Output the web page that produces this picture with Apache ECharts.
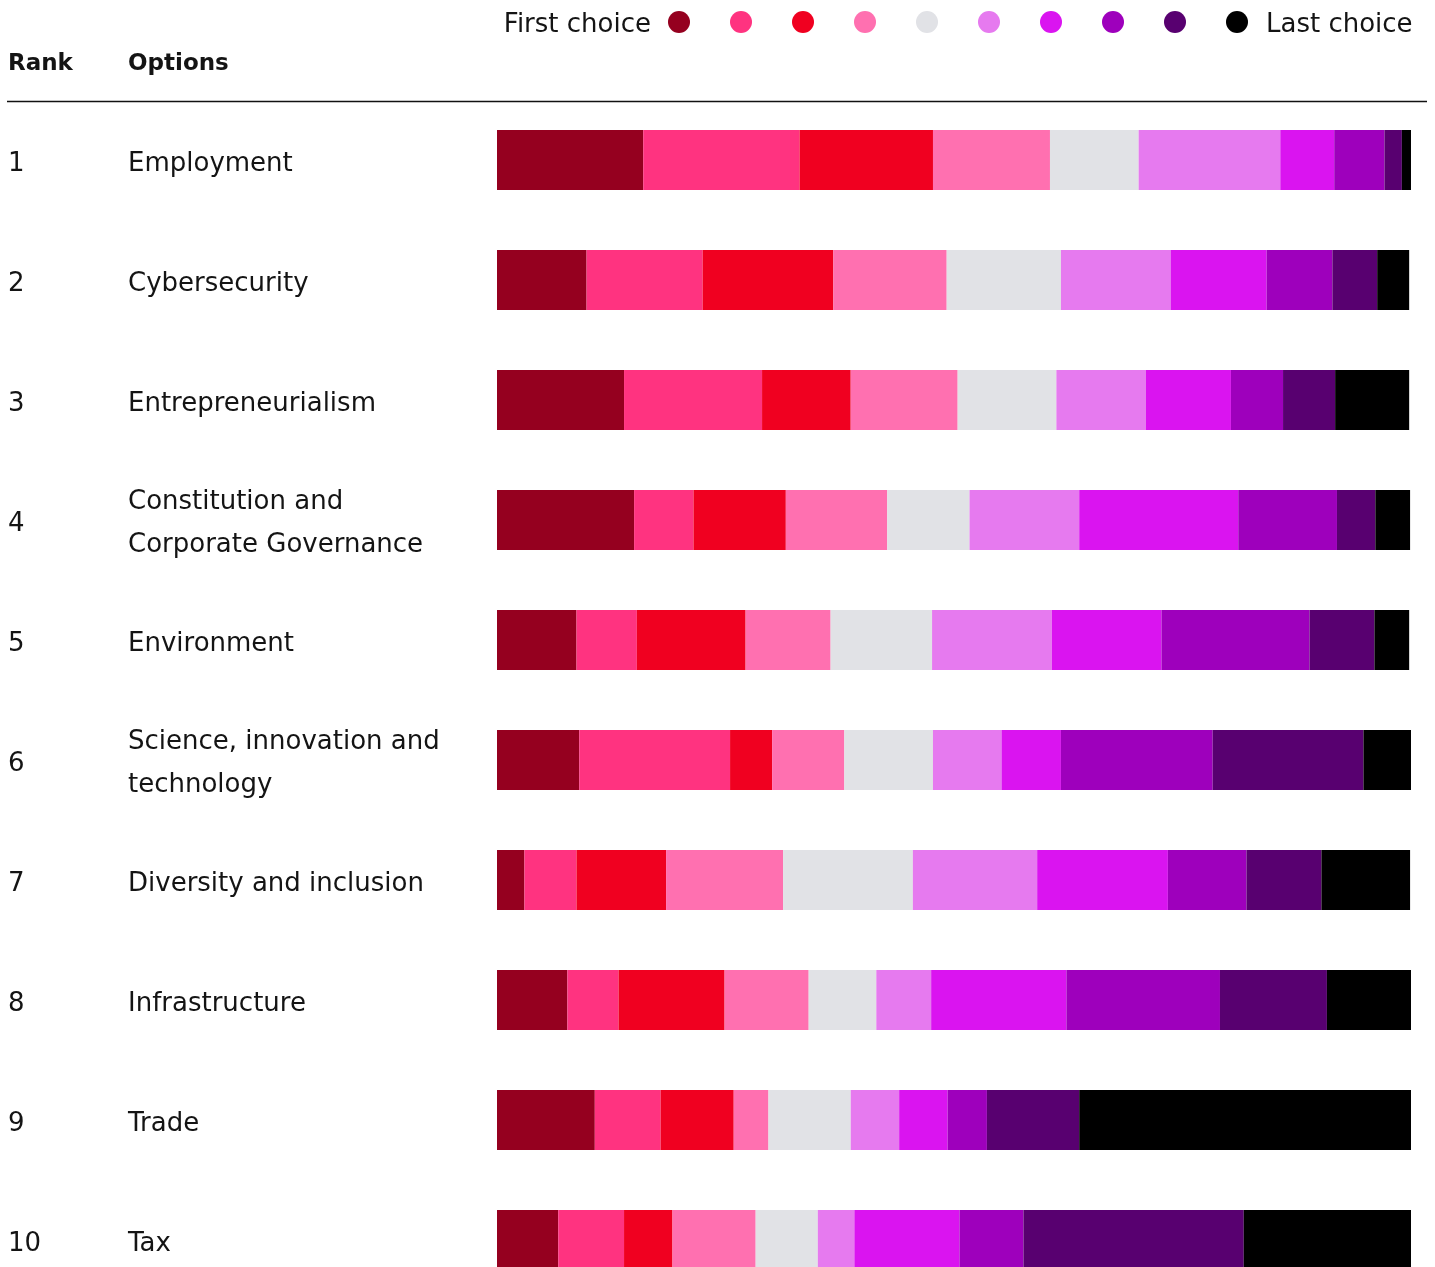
<!DOCTYPE html>
<html>
<head>
<meta charset="utf-8">
<title>Policy priorities ranking</title>
<script src="https://cdn.jsdelivr.net/npm/echarts@6/dist/echarts.min.js"></script>
<style>
  html, body { margin: 0; padding: 0; background: #ffffff; }
  #chart { width: 1435px; height: 1267px; }
</style>
</head>
<body>
<div id="chart"></div>
<script>
// Ranked options (top to bottom)
const ranks = ['1', '2', '3', '4', '5', '6', '7', '8', '9', '10'];
const options = [
  'Employment',
  'Cybersecurity',
  'Entrepreneurialism',
  'Constitution and\nCorporate Governance',
  'Environment',
  'Science, innovation and\ntechnology',
  'Diversity and inclusion',
  'Infrastructure',
  'Trade',
  'Tax'
];

// Choice positions, first to last
const choiceNames = ['1st choice', '2nd choice', '3rd choice', '4th choice', '5th choice',
  '6th choice', '7th choice', '8th choice', '9th choice', '10th choice'];
const choiceColors = ['#95001F', '#FF3380', '#F00020', '#FF70B0', '#E1E2E6',
  '#E67AEF', '#DA14F0', '#9E00BC', '#580070', '#000000'];

// Share of respondents (%) placing each option at each choice position
const employment      = [16.0, 17.1, 14.6, 12.8,  9.7, 15.5,  5.9,  5.5,  1.9,  1.3];
const cybersecurity   = [ 9.8, 12.7, 14.3, 12.4, 12.5, 12.0, 10.5,  7.2,  4.9,  3.5];
const entrepreneurial = [13.9, 15.1,  9.7, 11.7, 10.8,  9.8,  9.3,  5.7,  5.7,  8.1];
const constitution    = [15.0,  6.5, 10.1, 11.1,  9.0, 12.0, 17.4, 10.8,  4.2,  3.8];
const environment     = [ 8.7,  6.6, 11.9,  9.3, 11.1, 13.1, 12.0, 16.2,  7.1,  3.8];
const science         = [ 9.0, 16.5,  4.6,  7.9,  9.7,  7.5,  6.5, 16.6, 16.5,  5.3];
const diversity       = [ 3.0,  5.7,  9.8, 12.8, 14.2, 13.6, 14.3,  8.6,  8.2,  9.7];
const infrastructure  = [ 7.7,  5.6, 11.6,  9.2,  7.4,  6.0, 14.8, 16.8, 11.7,  9.4];
const trade           = [10.7,  7.2,  8.0,  3.8,  9.0,  5.3,  5.3,  4.3, 10.1, 36.5];
const tax             = [ 6.7,  7.2,  5.3,  9.1,  6.8,  4.0, 11.5,  7.0, 24.1, 18.5];

const rows = [employment, cybersecurity, entrepreneurial, constitution, environment,
  science, diversity, infrastructure, trade, tax];

const FONT = '"DejaVu Sans", sans-serif';
const TEXT = '#141414';
const SIZE = 26;

const series = choiceNames.map((name, c) => ({
  name: name,
  type: 'bar',
  stack: 'total',
  barWidth: 60,
  xAxisIndex: 0,
  yAxisIndex: 0,
  itemStyle: { color: choiceColors[c] },
  emphasis: { disabled: true },
  data: rows.map(r => r[c])
}));

const hiddenLine = { axisLine: { show: false }, axisTick: { show: false } };

const chart = echarts.init(document.getElementById('chart'), null, { renderer: 'canvas' });
chart.setOption({
  animation: false,
  backgroundColor: '#ffffff',
  textStyle: { fontFamily: FONT },
  grid: [
    // bars
    { left: 497, top: 100, width: 914, height: 1200, containLabel: false, outerBoundsMode: 'none' },
    // row labels, sitting a touch below the bar centres
    { left: 497, top: 104, width: 914, height: 1200, containLabel: false, outerBoundsMode: 'none' }
  ],
  xAxis: [
    { type: 'value', min: 0, max: 100, show: false, gridIndex: 0 },
    { type: 'value', min: 0, max: 100, show: false, gridIndex: 1 }
  ],
  yAxis: [
    {
      type: 'category', inverse: true, data: options, gridIndex: 0,
      ...hiddenLine, axisLabel: { show: false }
    },
    {
      type: 'category', inverse: true, data: options, gridIndex: 1, position: 'left',
      ...hiddenLine,
      axisLabel: {
        margin: 369, align: 'left', fontFamily: FONT, fontSize: SIZE,
        color: TEXT, lineHeight: 43
      }
    },
    {
      type: 'category', inverse: true, data: ranks, gridIndex: 1, position: 'left',
      ...hiddenLine,
      axisLabel: {
        margin: 489, align: 'left', fontFamily: FONT, fontSize: SIZE, color: TEXT
      }
    }
  ],
  legend: {
    data: choiceNames,
    left: 668, top: 11,
    padding: 0,
    orient: 'horizontal',
    icon: 'circle',
    itemWidth: 22, itemHeight: 22,
    itemGap: 40,
    selectedMode: false,
    formatter: () => '',
    textStyle: { fontSize: 1 }
  },
  graphic: [
    { type: 'text', x: 8, y: 64, style: { text: 'Rank', font: 'bold 23px ' + FONT, fill: TEXT, verticalAlign: 'middle' } },
    { type: 'text', x: 128, y: 64, style: { text: 'Options', font: 'bold 23px ' + FONT, fill: TEXT, verticalAlign: 'middle' } },
    { type: 'text', x: 651, y: 25, style: { text: 'First choice', font: SIZE + 'px ' + FONT, fill: TEXT, align: 'right', verticalAlign: 'middle' } },
    { type: 'text', x: 1266, y: 25, style: { text: 'Last choice', font: SIZE + 'px ' + FONT, fill: TEXT, verticalAlign: 'middle' } },
    { type: 'line', shape: { x1: 7, y1: 101.5, x2: 1427, y2: 101.5 }, style: { stroke: '#111111', lineWidth: 1.5 } }
  ],
  series: series
});
</script>
</body>
</html>
